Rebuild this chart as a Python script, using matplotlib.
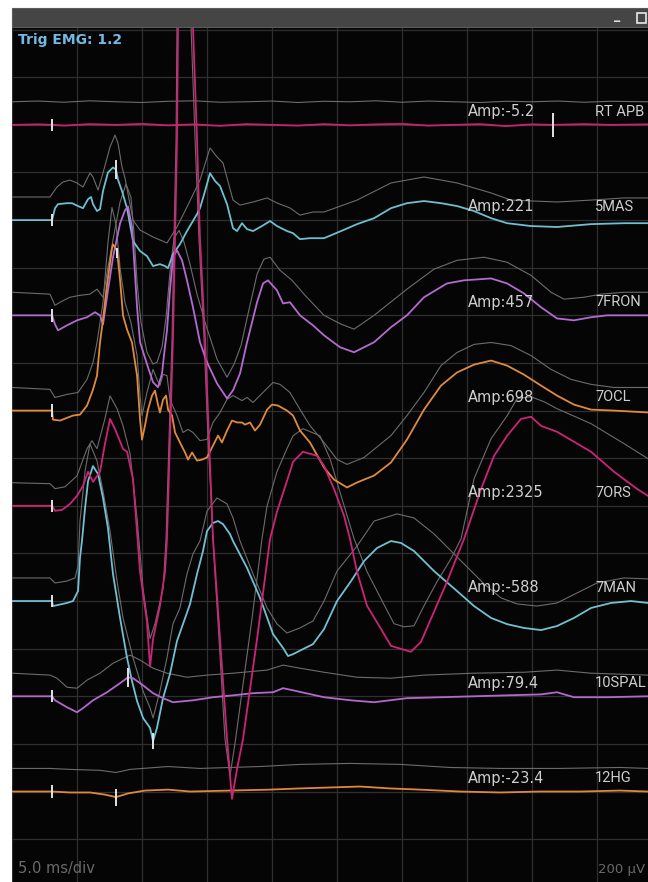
import numpy as np
import matplotlib
matplotlib.use("Agg")
import matplotlib.pyplot as plt
from matplotlib.patches import Rectangle

# ---------------------------------------------------------------- data
# time in ms after trigger, amplitude in microvolts relative to each trace's baseline
channel_names = ["RT APB", "5MAS", "7FRON", "7OCL", "7ORS", "7MAN", "10SPAL", "12HG"]
amp_labels = ["-5.2", "221", "457", "698", "2325", "-588", "79.4", "-23.4"]
trace_colors = ["#c8236f", "#6ebfd0", "#b56ad0", "#e08a3e", "#cc2476", "#72c0d2", "#b468cc", "#e0883a"]

apb_t = [0, 2, 3.08, 4, 6, 8, 10, 12, 14, 16, 18, 20, 22, 24, 26, 28, 30, 32, 34, 36, 38, 40, 41.6, 44, 46, 48.92]
apb_uv = [0, 2, 0, -3, 3, 0, 4, -2, 2, -4, 3, 0, -3, 3, -2, 2, 4, -3, 0, 3, -5.2, 2, 0, 3, 0, 2]
apb_ref_t = [0, 2, 4, 6, 8, 10, 12, 14, 16, 18, 20, 22, 24, 26, 28, 30, 32, 34, 36, 38, 40, 42, 44, 46, 48.92]
apb_ref_uv = [0, 3, -2, 4, 0, -3, 2, 4, -2, 0, 3, -3, 2, 0, 4, -2, 3, 0, -3, 2, 0, 3, -2, 2, 0]

mas_t = [0, 3.08, 3.31, 3.54, 4.23, 4.62, 5.08, 5.46, 5.85, 6.08, 6.23, 6.54, 6.77, 7.0, 7.38, 7.77, 8.0, 8.15, 8.46, 8.85,
         9.31, 9.85, 10.38, 10.85, 11.38, 11.77, 12.0, 12.38, 12.92, 13.46, 14.23, 14.46, 14.85, 15.23, 15.62, 16.0, 16.54,
         17.0, 17.31, 17.69, 18.08, 18.54, 19.23, 19.85, 20.38, 21.15, 21.62, 22.15, 22.92, 24.0, 25.31, 26.54, 27.85,
         29.15, 30.38, 31.69, 33.0, 34.23, 35.54, 36.85, 38.08, 39.92, 41.92, 44.54, 47.08, 48.92]
mas_uv = [0, 0, 50, 67, 71, 71, 59, 50, 88, 97, 67, 38, 46, 122, 200, 221, 212, 170, 122, 50,
          -88, -130, -151, -193, -185, -193, -202, -143, -101, -46, 25, 50, 122, 197, 164, 143, 67,
          -34, -46, -13, -38, -46, -25, -4, -25, -46, -55, -80, -76, -76, -46, -17, 8,
          50, 71, 80, 71, 59, 38, 8, -13, -25, -29, -17, -13, -13]
mas_ref_t = [0, 2.92, 3.46, 3.92, 4.46, 5.0, 5.46, 6.0, 6.23, 6.62, 7.0, 7.54, 7.92, 8.15, 8.46, 8.69, 9.31, 9.85, 10.85,
             11.92, 12.69, 13.46, 14.46, 15.23, 15.77, 16.23, 17.0, 17.54, 18.54, 19.62, 20.38, 21.38, 22.15, 23.15, 24.0,
             26.54, 29.15, 31.69, 34.23, 36.85, 38.38, 41.92, 44.54, 47.08, 48.92]
mas_ref_uv = [0, 0, 42, 63, 71, 59, 42, 101, 84, 29, 101, 210, 260, 227, 126, 80, -97, -139, -168,
              -193, -126, -42, 71, 206, 168, 143, -13, -34, -21, -4, -25, -46, -76, -63, -63,
              -13, 59, 84, 59, 17, -13, -21, -13, -4, -4]

fron_t = [0, 3.08, 3.31, 3.54, 4.23, 5.0, 5.77, 6.38, 6.77, 7.0, 7.38, 7.77, 8.31, 8.69, 8.92, 9.23, 9.38, 9.62, 9.85,
          10.46, 10.85, 11.23, 11.54, 11.69, 11.92, 12.15, 12.38, 12.69, 13.08, 13.46, 13.92, 14.46, 15.0, 15.77, 16.54,
          17.0, 17.54, 18.08, 18.85, 19.31, 19.69, 20.38, 20.85, 21.38, 22.15, 23.15, 24.0, 25.23, 26.31, 27.85, 29.15,
          30.38, 31.69, 33.46, 34.77, 36.85, 38.08, 39.38, 40.69, 41.92, 43.23, 44.54, 45.77, 47.08, 48.92]
fron_uv = [0, 0, -38, -63, -42, -21, -8, 13, 0, -38, 105, 244, 386, 441, 457, 370, 244, 34, -113,
           -218, -281, -302, -244, -168, -63, 105, 244, 273, 231, 147, 34, -113, -197, -286, -349,
           -315, -244, -113, 55, 134, 147, 105, 50, 55, 0, -42, -84, -134, -155, -113, -50,
           0, 76, 134, 147, 155, 134, 92, 34, -13, -21, -8, 0, 0, 0]
fron_ref_t = [0, 2.92, 3.31, 3.69, 4.46, 5.23, 6.0, 6.54, 7.0, 7.38, 7.85, 8.31, 8.77, 9.15, 9.38, 9.62, 9.92, 10.38,
              10.85, 11.15, 11.54, 11.85, 12.15, 12.46, 12.85, 13.23, 13.69, 14.23, 14.85, 15.77, 16.54, 17.08, 17.62,
              18.15, 18.85, 19.38, 19.85, 20.62, 21.54, 22.54, 24.0, 25.31, 26.31, 27.85, 30.38, 32.46, 34.23, 36.31,
              38.08, 39.92, 41.46, 42.46, 44.0, 45.31, 47.08, 48.92]
fron_ref_uv = [0, -8, -55, -42, -21, -13, -8, 13, -21, 105, 244, 378, 454, 399, 252, 42, -126, -252,
               -302, -294, -231, -105, 84, 227, 260, 210, 118, -8, -126, -281, -357, -302, -223,
               -92, 76, 139, 147, 92, 50, -13, -97, -134, -155, -97, 13, 97, 134, 147,
               126, 71, 0, -29, -21, -8, 0, 0]

ocl_t = [0, 3.08, 3.15, 3.69, 4.69, 5.23, 5.77, 6.23, 6.54, 6.77, 7.0, 7.31, 7.69, 7.77, 8.08, 8.31, 8.54, 8.85, 9.23,
         9.62, 9.85, 10.0, 10.23, 10.46, 10.77, 11.0, 11.23, 11.38, 11.62, 11.85, 12.0, 12.31, 12.54, 12.92, 13.31, 13.54,
         13.85, 14.23, 14.62, 15.0, 15.46, 15.85, 16.15, 16.54, 16.92, 17.31, 17.69, 17.92, 18.31, 18.69, 19.08, 19.62,
         20.0, 20.46, 21.15, 21.62, 22.15, 22.92, 24.0, 24.77, 25.77, 26.54, 27.85, 29.15, 30.38, 31.69, 33.0, 34.23,
         35.54, 36.85, 38.08, 39.38, 40.69, 41.92, 43.23, 44.54, 46.31, 48.92]
ocl_uv = [0, 0, -38, -42, -21, -17, 21, 88, 147, 286, 382, 530, 680, 698, 672, 550, 399, 340, 286,
          147, -38, -122, -63, 4, 63, 84, 25, -8, 46, 63, 4, -21, -92, -134, -176, -206,
          -176, -210, -206, -197, -147, -105, -134, -84, -42, -50, -50, -59, -50, -84, -59, 4,
          25, 21, 0, -21, -84, -134, -239, -290, -323, -302, -273, -218, -122, 4, 105, 160,
          193, 210, 189, 151, 105, 63, 25, 4, 0, -8]
ocl_ref_t = [0, 2.92, 3.31, 4.23, 5.08, 5.77, 6.23, 6.54, 7.0, 7.38, 7.69, 8.0, 8.31, 8.69, 9.15, 9.62, 9.85, 10.0,
             10.38, 10.85, 11.15, 11.38, 11.62, 11.92, 12.15, 12.69, 13.15, 13.54, 13.92, 14.46, 15.0, 15.46, 16.0,
             16.54, 17.0, 17.69, 18.08, 18.54, 19.31, 20.08, 20.62, 21.38, 22.15, 22.92, 24.0, 25.0, 25.77, 27.08,
             29.15, 30.38, 31.69, 33.0, 34.23, 35.54, 36.85, 38.38, 39.92, 41.46, 43.0, 44.54, 46.31, 48.92]
ocl_ref_uv = [0, -8, -42, -29, -21, 34, 105, 189, 357, 609, 756, 685, 504, 357, 273, 134, -34, -118,
              -21, 76, 34, 8, 55, 50, -50, -118, -189, -176, -189, -223, -218, -147, -105,
              -50, -34, -55, -42, -63, -21, 21, 13, -21, -92, -160, -231, -302, -323, -294,
              -202, -118, -21, 92, 147, 181, 189, 176, 134, 76, 34, 13, 0, 0]

ors_t = [0, 3.08, 3.31, 3.85, 4.46, 5.0, 5.46, 5.85, 6.23, 6.77, 7.15, 7.54, 7.92, 8.54, 8.85, 9.31, 9.85, 10.38, 10.62,
         10.85, 11.38, 11.77, 11.92, 12.15, 12.38, 12.54, 12.69, 12.77, 13.35, 13.92, 14.23, 14.46, 14.85, 15.15, 15.46,
         16.0, 16.54, 16.92, 17.31, 17.77, 18.85, 19.85, 20.38, 21.38, 21.62, 22.38, 23.46, 24.0, 24.77, 25.54, 26.0,
         26.54, 27.31, 28.38, 29.15, 29.92, 30.69, 31.46, 32.46, 33.46, 34.77, 36.08, 37.08, 38.08, 39.15, 39.92,
         40.69, 41.92, 44.54, 46.31, 48.08, 48.92]
ors_uv = [0, 0, -21, -17, 8, 42, 84, 143, 101, 143, 260, 365, 323, 239, 227, 113, -277, -487, -676,
          -559, -420, -277, -139, 281, 701, 1121, 1541, 2012, 2325, 2012, 1541, 1121, 701, 281, -139,
          -559, -979, -1231, -1105, -979, -559, -139, -25, 143, 185, 227, 210, 168, 71, -42, -139,
          -277, -420, -517, -588, -601, -613, -571, -445, -319, -139, 71, 210, 294, 365, 374,
          336, 311, 227, 143, 71, 42]
ors_ref_t = [0, 2.92, 3.31, 4.08, 5.0, 5.77, 6.15, 6.54, 7.15, 7.54, 8.08, 8.54, 9.08, 9.62, 10.08, 10.62, 11.0, 11.62,
             11.85, 12.08, 12.31, 12.46, 12.62, 12.69, 13.23, 13.77, 14.08, 14.38, 14.77, 15.08, 15.46, 15.92, 16.38,
             16.77, 17.15, 17.62, 18.46, 19.23, 19.62, 20.38, 21.15, 21.62, 22.38, 23.69, 24.46, 25.38, 26.31, 27.31,
             28.38, 29.38, 30.15, 30.92, 31.69, 32.69, 33.77, 34.54, 35.54, 36.85, 38.08, 38.85, 39.92, 40.92, 41.92,
             44.54, 47.08, 48.92]
ors_ref_uv = [0, -4, -25, -17, 29, 143, 176, 143, 269, 365, 311, 239, 122, -151, -445, -655, -592, -445,
              -235, 185, 605, 1025, 1445, 1915, 2200, 1915, 1445, 1025, 605, 185, -235, -655, -1075,
              -1231, -1096, -907, -571, -235, -97, 46, 143, 197, 227, 197, 101, -67, -235, -374,
              -487, -592, -605, -601, -517, -416, -319, -235, 17, 185, 281, 353, 361, 340, 311,
              248, 164, 101]

man_t = [0, 3.08, 3.15, 4.23, 4.69, 5.08, 5.23, 5.38, 5.62, 5.85, 6.23, 6.62, 7.0, 7.38, 7.77, 8.31, 8.85, 9.23, 9.62,
         10.08, 10.62, 10.85, 11.15, 11.62, 12.15, 12.69, 13.15, 13.69, 14.23, 14.69, 15.0, 15.46, 15.85, 16.23, 16.77,
         17.0, 18.08, 19.08, 20.08, 20.85, 21.23, 21.62, 22.38, 23.15, 24.0, 25.0, 26.08, 27.08, 28.08, 29.15, 29.92,
         30.92, 32.46, 34.23, 35.54, 36.85, 38.08, 39.38, 40.69, 41.92, 43.23, 44.54, 46.08, 47.62, 48.92]
man_uv = [0, 0, -21, -8, 0, 42, 181, 252, 391, 504, 567, 533, 433, 307, 113, -71, -239, -336, -420,
          -491, -533, -588, -533, -407, -307, -168, -97, -13, 113, 210, 294, 328, 336, 323, 281,
          252, 139, 13, -139, -197, -231, -223, -202, -181, -118, 0, 84, 168, 223, 252, 244,
          210, 126, 42, -21, -71, -97, -113, -122, -105, -71, -29, -8, 0, -8]
man_ref_t = [0, 2.92, 3.31, 4.23, 4.85, 5.08, 5.23, 5.62, 6.0, 6.54, 7.0, 7.54, 8.08, 8.54, 9.31, 10.08, 10.62, 10.85,
             11.38, 11.92, 12.38, 12.92, 13.46, 13.92, 14.46, 15.0, 15.77, 16.54, 17.0, 17.54, 18.54, 19.62, 20.38,
             21.15, 22.15, 23.15, 24.0, 25.0, 26.54, 27.85, 29.62, 30.92, 32.46, 34.77, 36.31, 37.62, 38.85, 40.38,
             41.92, 43.46, 45.0, 47.08, 48.92]
man_ref_uv = [0, 0, -21, -13, 0, 50, 239, 449, 563, 491, 365, 197, -13, -168, -336, -475, -546, -588,
              -475, -336, -193, -126, 17, 101, 155, 281, 336, 311, 252, 155, 17, -126, -193,
              -231, -210, -181, -97, 29, 134, 239, 269, 252, 185, 59, -25, -84, -109, -118,
              -105, -63, -21, 0, -4]

spal_t = [0, 3.08, 3.31, 4.23, 5.0, 5.46, 6.23, 7.31, 8.31, 8.92, 9.31, 10.08, 10.85, 11.62, 12.38, 13.92, 15.46, 17.0,
          18.54, 20.08, 20.85, 21.62, 24.0, 26.08, 27.85, 30.38, 33.0, 35.54, 38.08, 40.69, 41.92, 43.23, 45.77, 48.92]
spal_uv = [0, 0, -17, -46, -67, -50, -17, 17, 55, 79.4, 76, 46, 13, -8, -25, -17, -4, 4,
           13, 17, 34, 25, -4, -17, -25, -8, -4, 0, 4, 8, 17, -4, -4, 0]
spal_ref_t = [0, 2.92, 3.46, 4.23, 5.0, 5.77, 6.77, 7.77, 9.08, 9.85, 10.85, 11.92, 13.46, 15.0, 17.0, 19.62, 20.85,
              22.15, 24.0, 26.54, 29.15, 31.69, 35.54, 39.38, 41.92, 44.54, 48.92]
spal_ref_uv = [0, -8, -21, -59, -63, -29, 0, 42, 76, 55, 21, 0, -17, -8, 0, 13, 34,
               21, 4, -17, -21, -8, 0, 4, 13, 0, -8]

hg_t = [0, 3.08, 4.46, 6.0, 7.15, 8.0, 8.92, 10.23, 12.0, 13.69, 16.77, 19.85, 22.15, 24.46, 26.77, 29.08, 31.38,
        34.46, 37.54, 40.62, 43.69, 46.77, 48.92]
hg_uv = [0, 0, -4, -4, -13, -23.4, -8, 4, 8, 0, 4, 8, 13, 17, 21, 13, 8, 0, -4, 0, 0, 4, 0]
hg_ref_t = [0, 2.92, 4.46, 6.77, 8.0, 9.08, 12.0, 14.46, 19.08, 22.15, 26.0, 29.85, 33.69, 37.54, 42.15, 46.77, 48.92]
hg_ref_uv = [0, 0, -4, -8, -17, -4, 8, 0, 8, 17, 21, 17, 4, 0, 0, 4, 0]

traces = [(apb_t, apb_uv), (mas_t, mas_uv), (fron_t, fron_uv), (ocl_t, ocl_uv),
          (ors_t, ors_uv), (man_t, man_uv), (spal_t, spal_uv), (hg_t, hg_uv)]
ref_traces = [(apb_ref_t, apb_ref_uv), (mas_ref_t, mas_ref_uv), (fron_ref_t, fron_ref_uv), (ocl_ref_t, ocl_ref_uv),
              (ors_ref_t, ors_ref_uv), (man_ref_t, man_ref_uv), (spal_ref_t, spal_ref_uv), (hg_ref_t, hg_ref_uv)]

# latency / stimulus markers: channel index, time (ms), half height (uV)
marker_chan = [0, 1, 2, 3, 4, 5, 6, 7, 0, 1, 3, 5, 6, 7]
marker_t = [3.08, 3.08, 3.08, 3.08, 3.08, 3.08, 3.08, 3.08, 41.6, 8.0, 8.1, 10.85, 8.92, 8.0]
marker_half = [26, 26, 26, 26, 26, 26, 26, 26, 50, 40, 20, 32, 40, 36]

# display settings
CH_SPACING = 400      # uV between channel baselines (2 divisions)
REF_OFFSET = 97       # reference traces sit half a division above
MS_PER_DIV = 5.0
UV_PER_DIV = 200

# ---------------------------------------------------------------- figure
W, H = 648, 882
fig = plt.figure(figsize=(W / 100, H / 100), dpi=100, facecolor="white")

left = 12 / W
bar_bottom = 1 - 27 / H
bar_top = 1 - 8 / H
fig.patches.append(Rectangle((left, bar_bottom), 1 - left, bar_top - bar_bottom,
                             transform=fig.transFigure, facecolor="#454545", edgecolor="#5a5a5a", lw=0.8))
fig.text(614 / W, 1 - 16 / H, "_", color="#e0e0e0", fontsize=9, fontweight="bold", va="center")
fig.patches.append(Rectangle((637 / W, 1 - 23 / H), 9 / W, 10 / H, transform=fig.transFigure,
                             facecolor="none", edgecolor="#e8e8e8", lw=1.2))

ax = fig.add_axes([left, 0, 1 - left, bar_bottom])
ax.set_facecolor("#050505")
ax.set_xlim(0, 48.92)
ax.set_ylim(-3180, 411)
for s in ax.spines.values():
    s.set_visible(False)
ax.set_xticks([])
ax.set_yticks([])

grid_c = "#2f2f2f"
for t in np.arange(0, 49, MS_PER_DIV):
    ax.axvline(t, color=grid_c, lw=0.9, zorder=0)
for y in np.arange(-3200, 401, UV_PER_DIV):
    ax.axhline(y, color=grid_c, lw=0.9, zorder=0)

# reference (previous) responses in grey
for i, (t, v) in enumerate(ref_traces):
    base = -CH_SPACING * i + REF_OFFSET
    ax.plot(t, np.asarray(v) + base, color="#6c6c6c", lw=0.8, zorder=2)

# live responses
order = [0, 1, 2, 3, 5, 6, 7, 4]
for i in order:
    t, v = traces[i]
    base = -CH_SPACING * i
    ax.plot(t, np.asarray(v) + base, color=trace_colors[i], lw=1.3, zorder=3)

# markers
for ch, mt, hh in zip(marker_chan, marker_t, marker_half):
    t, v = traces[ch]
    yc = np.interp(mt, t, v) - CH_SPACING * ch
    ax.plot([mt, mt], [yc - hh, yc + hh], color="#e4e4e4", lw=1.4, zorder=4, solid_capstyle="butt")

# channel annotations
for i, (name, amp) in enumerate(zip(channel_names, amp_labels)):
    y = -CH_SPACING * i + 55
    ax.text(35.1, y, f"Amp:{amp}", color="#cfcfcf", fontsize=10.5, va="center", ha="left", zorder=5)
    ax.text(44.85, y, name, color="#cfcfcf", fontsize=10.5, family=["Roboto", "DejaVu Sans"],
            va="center", ha="left", zorder=5, clip_on=False)

fig.text(18 / W, 1 - 40 / H, "Trig EMG: 1.2", color="#74b9e4", fontsize=10, fontweight="bold",
         va="center", ha="left")
fig.text(18 / W, 1 - 869 / H, f"{MS_PER_DIV:.1f} ms/div", color="#6a6a6a", fontsize=10.5, va="center", ha="left")
fig.text(598 / W, 1 - 869 / H, f"{UV_PER_DIV} \u00b5V", color="#6a6a6a", fontsize=9.5, va="center", ha="left")

fig.savefig("out.png", dpi=100, facecolor="white")
